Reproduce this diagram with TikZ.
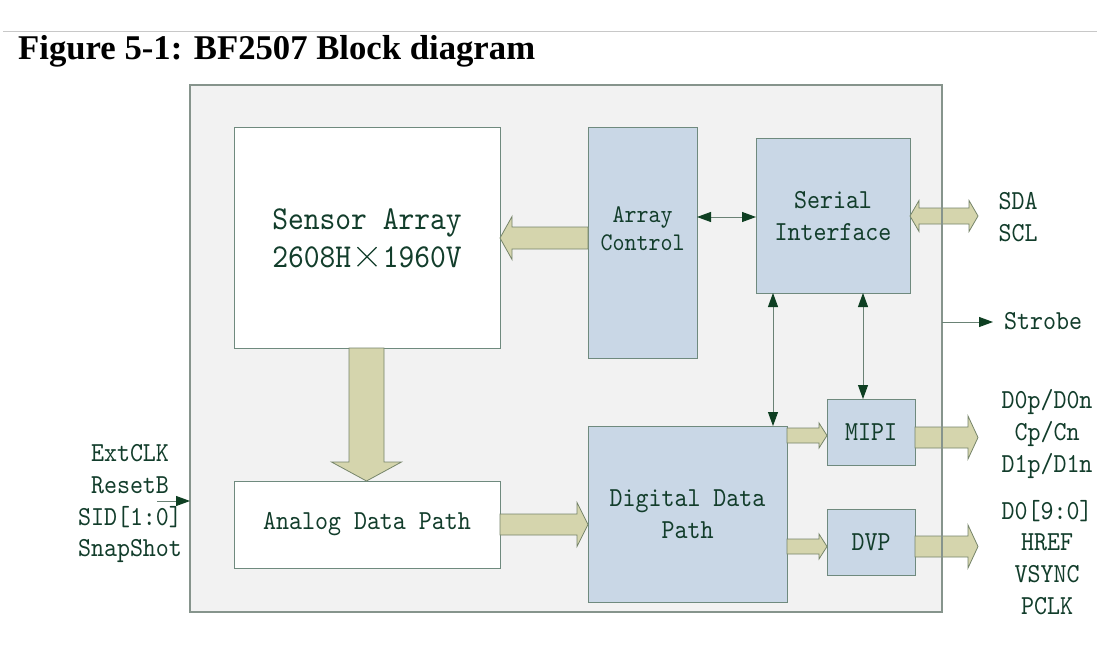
\documentclass[tikz,border=0pt]{standalone}
\usepackage{fontspec}
\usepackage{calc}
\usepackage{graphicx}
\setmainfont{Liberation Serif}
\newfontfamily\monof[FakeStretch=0.9]{lmmono10-regular.otf}
\usetikzlibrary{arrows.meta,calc}
\definecolor{boxline}{HTML}{6F8A7E}
\definecolor{bluefill}{HTML}{C9D7E6}
\definecolor{outerfill}{HTML}{F2F2F2}
\definecolor{outerline}{HTML}{86948C}
\definecolor{fatfill}{HTML}{D5D5AD}
\definecolor{fatline}{HTML}{76856A}
\definecolor{txt}{HTML}{123D2B}
\definecolor{headcol}{HTML}{0E3F22}
\definecolor{thinline}{HTML}{6A8275}
\definecolor{topline}{HTML}{C8C8C8}
\tikzset{
  hd/.tip={Triangle[length=14pt,width=10pt,color=headcol]},
  blk/.style={draw=boxline, line width=1pt, outer sep=0pt, inner sep=0pt,
    text=txt, font=\monof\fontsize{27.5}{32}\selectfont, align=center},
  whitebk/.style={blk, fill=white},
  bluebk/.style={blk, fill=bluefill},
  lbl/.style={text=txt, font=\monof\fontsize{27.5}{32}\selectfont, inner sep=0pt, anchor=base},
  thinarrow/.style={draw=thinline, line width=0.9pt},
  fat/.style={fill=fatfill, draw=fatline, line width=0.8pt, line join=miter}
}
\newcommand{\fatH}[6]{%
  \draw[fat] (#1,#4-#5) -- (#2,#4-#5) -- (#2,#4-#6) -- (#3,#4) -- (#2,#4+#6) -- (#2,#4+#5) -- (#1,#4+#5) -- cycle;}
\newcommand{\fatV}[6]{%
  \draw[fat] (#4-#5,#1) -- (#4-#5,#2) -- (#4-#6,#2) -- (#4,#3) -- (#4+#6,#2) -- (#4+#5,#2) -- (#4+#5,#1) -- cycle;}
\newcommand{\fatD}[7]{%
  \draw[fat] (#1,#5) -- (#2,#5-#7) -- (#2,#5-#6) -- (#3,#5-#6) -- (#3,#5-#7) -- (#4,#5) -- (#3,#5+#7) -- (#3,#5+#6) -- (#2,#5+#6) -- (#2,#5+#7) -- cycle;}
\newcommand{\bigtimes}{\makebox[\widthof{00}]{\tikz[x=1pt,y=1pt,baseline=0pt]{\draw[txt, line width=1.2pt] (0,1)--(19,20) (0,20)--(19,1);}}}
\begin{document}
\begin{tikzpicture}[x=1pt,y=-1pt]
\useasboundingbox[fill=white] (0,0) rectangle (1100,650);
% top rule and title
\draw[topline, line width=1pt] (3,31.5) -- (1097,31.5);
\node[anchor=base west, inner sep=0pt, font=\bfseries\fontsize{34.7}{40}\selectfont] (title) at (18,60) {Figure 5-1: BF2507 Block diagram};
% chip outline (fill)
\node[fill=outerfill, minimum width=752pt, minimum height=527pt, inner sep=0pt, outer sep=0pt] (chip) at (566,348.5) {};
% blocks
\node[whitebk, minimum width=266pt, minimum height=220pt, font=\monof\fontsize{33.4}{38}\selectfont] (sensor) at (367,238)
  {Sensor Array\\2608H\bigtimes 1960V};
\node[bluebk, minimum width=109pt, minimum height=230pt] (actrl) at (642.5,243) {};
\node[inner sep=0pt, text=txt, align=center, font=\monof\fontsize{25.4}{28}\selectfont] (actrltxt) at (642.5,229) {Array\\Control};
\node[bluebk, minimum width=154pt, minimum height=154pt] (serial) at (833,216) {Serial\\Interface};
\node[whitebk, minimum width=266pt, minimum height=87pt] (analog) at (367,524.5) {Analog Data Path};
\node[bluebk, minimum width=199pt, minimum height=176pt] (digital) at (687.5,514) {Digital Data\\Path};
\node[bluebk, minimum width=88pt, minimum height=66pt] (mipi) at (871,432) {MIPI};
\node[bluebk, minimum width=88pt, minimum height=66pt] (dvp) at (871,542) {DVP};
% fat arrows
\fatH{588}{512}{500}{238}{11}{21.5}
\fatV{348}{462}{481}{366.5}{17.5}{35}
\fatH{500}{577}{588}{524.5}{10.5}{22}
\fatH{787}{819}{827}{435.5}{7.5}{12.5}
\fatH{787}{819}{827}{546.5}{7.5}{12.5}
\fatH{915}{968}{978}{437.5}{10.5}{21.5}
\fatH{915}{968}{978}{546.5}{10.5}{21.5}
\fatD{910}{919}{969}{978}{216}{8}{15.5}
% chip outline (border on top)
\draw[outerline, line width=1.2pt] (chip.north west) rectangle (chip.south east);
% thin arrows
\draw[thinarrow, hd-hd] (actrl.east |- 0,217) -- (serial.west |- 0,217);
\draw[thinarrow, hd-hd] (serial.south -| 773,0) -- (digital.north -| 773,0);
\draw[thinarrow, hd-hd] (serial.south -| 863,0) -- (mipi.north -| 863,0);
\coordinate (strobeend) at (993,322);
\draw[thinarrow, -hd] (chip.east |- strobeend) -- (strobeend);
\coordinate (instart) at (157,501);
\draw[thinarrow, -hd] (instart) -- (chip.west |- instart);
% external labels
\node[lbl] (l1) at (130,461) {ExtCLK};
\node[lbl] (l2) at (130,493) {ResetB};
\node[lbl] (l3) at (130,525) {SID[1:0]};
\node[lbl] (l4) at (130,556) {SnapShot};
\node[lbl] (sda) at (1018,209) {SDA};
\node[lbl] (scl) at (1018,241) {SCL};
\node[lbl, anchor=base west] (strobe) at (1004,329) {Strobe};
\node[lbl] (m1) at (1047,408) {D0p/D0n};
\node[lbl] (m2) at (1047,440) {Cp/Cn};
\node[lbl] (m3) at (1047,472) {D1p/D1n};
\node[lbl] (d1) at (1047,519) {D0[9:0]};
\node[lbl] (d2) at (1047,550) {HREF};
\node[lbl] (d3) at (1047,582) {VSYNC};
\node[lbl] (d4) at (1047,614) {PCLK};
\end{tikzpicture}
\end{document}
